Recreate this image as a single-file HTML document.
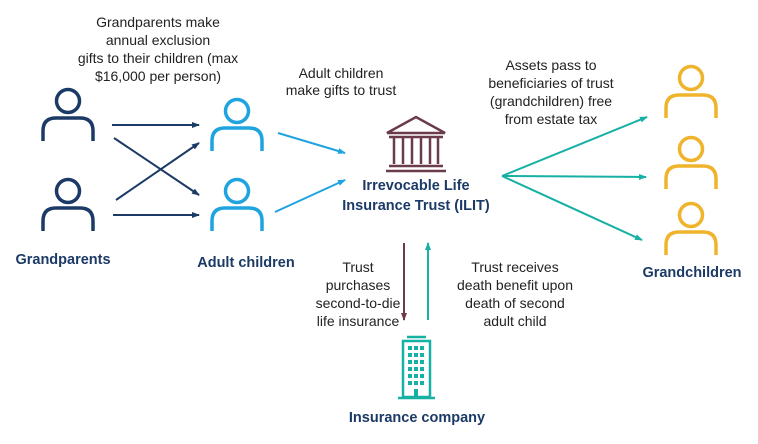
<!DOCTYPE html>
<html><head><style>
body{margin:0;background:#fff;width:758px;height:439px;overflow:hidden}
svg text{font-family:"Liberation Sans",sans-serif}
</style></head><body>
<svg width="758" height="439" viewBox="0 0 758 439" xmlns="http://www.w3.org/2000/svg">
<defs>
<symbol id="p" viewBox="0 0 56 80" overflow="visible">
<circle cx="28" cy="14" r="11.5" fill="none" stroke-width="3.5"/>
<path d="M3 54 V44 Q3 31 16 31 H40 Q53 31 53 44 V54" fill="none" stroke-width="3.5"/>
</symbol>
<marker id="an" markerWidth="8" markerHeight="8" refX="7" refY="4" orient="auto" markerUnits="userSpaceOnUse"><path d="M0 1 L8 4 L0 7z" fill="#1c3a66"/></marker>
<marker id="ab" markerWidth="8" markerHeight="8" refX="7" refY="4" orient="auto" markerUnits="userSpaceOnUse"><path d="M0 1 L8 4 L0 7z" fill="#1fa4e0"/></marker>
<marker id="at" markerWidth="8" markerHeight="8" refX="7" refY="4" orient="auto" markerUnits="userSpaceOnUse"><path d="M0 1 L8 4 L0 7z" fill="#17b0a4"/></marker>
<marker id="am" markerWidth="8" markerHeight="8" refX="7" refY="4" orient="auto" markerUnits="userSpaceOnUse"><path d="M0 1 L8 4 L0 7z" fill="#6b3a4c"/></marker>
</defs>
<g font-size="14" fill="#222" text-anchor="middle">
<text x="158" y="27">Grandparents make</text><text x="158" y="45">annual exclusion</text><text x="158" y="63">gifts to their children (max</text><text x="158" y="81">$16,000 per person)</text>
<text x="341" y="78">Adult children</text><text x="341" y="95">make gifts to trust</text>
<text x="551" y="70">Assets pass to</text><text x="551" y="88">beneficiaries of trust</text><text x="551" y="106">(grandchildren) free</text><text x="551" y="124">from estate tax</text>
<text x="358" y="272">Trust</text><text x="358" y="290">purchases</text><text x="358" y="308">second-to-die</text><text x="358" y="326">life insurance</text>
<text x="515" y="272">Trust receives</text><text x="515" y="290">death benefit upon</text><text x="515" y="308">death of second</text><text x="515" y="326">adult child</text>
</g>
<g font-size="14.5" font-weight="bold" fill="#1c3a66" text-anchor="middle">
<text x="63" y="264">Grandparents</text>
<text x="246" y="267">Adult children</text>
<text x="416" y="190">Irrevocable Life</text>
<text x="416" y="210">Insurance Trust (ILIT)</text>
<text x="417" y="422">Insurance company</text>
<text x="692" y="277">Grandchildren</text>
</g>
<use href="#p" x="40" y="87" width="56" height="80" stroke="#1c3a66"/>
<use href="#p" x="40" y="177" width="56" height="80" stroke="#1c3a66"/>
<use href="#p" x="209" y="97" width="56" height="80" stroke="#1fa4e0"/>
<use href="#p" x="209" y="177" width="56" height="80" stroke="#1fa4e0"/>
<use href="#p" x="663" y="64" width="56" height="80" stroke="#f0b42c"/>
<use href="#p" x="663" y="135" width="56" height="80" stroke="#f0b42c"/>
<use href="#p" x="663" y="201" width="56" height="80" stroke="#f0b42c"/>
<g stroke="#1c3a66" stroke-width="2">
<line x1="112" y1="125" x2="199" y2="125" marker-end="url(#an)"/>
<line x1="113" y1="215" x2="199" y2="215" marker-end="url(#an)"/>
<line x1="114" y1="138" x2="199" y2="195" marker-end="url(#an)"/>
<line x1="116" y1="200" x2="199" y2="143" marker-end="url(#an)"/>
</g>
<g stroke="#1fa4e0" stroke-width="2">
<line x1="278" y1="133" x2="345" y2="153" marker-end="url(#ab)"/>
<line x1="275" y1="212" x2="345" y2="180" marker-end="url(#ab)"/>
</g>
<g stroke="#17b0a4" stroke-width="2">
<line x1="502" y1="176" x2="647" y2="117" marker-end="url(#at)"/>
<line x1="502" y1="176" x2="646" y2="177" marker-end="url(#at)"/>
<line x1="502" y1="176" x2="642" y2="240" marker-end="url(#at)"/>
<line x1="428" y1="320" x2="428" y2="243" marker-end="url(#at)"/>
</g>
<line x1="404" y1="243" x2="404" y2="320" stroke="#6b3a4c" stroke-width="2" marker-end="url(#am)"/>
<g fill="none" stroke="#6b3a4c" stroke-width="2.5">
<path d="M387 133 L416 117 L445 133 Z"/>
<line x1="389" y1="137" x2="443" y2="137"/>
<line x1="394" y1="138" x2="394" y2="164"/><line x1="403" y1="138" x2="403" y2="164"/><line x1="412" y1="138" x2="412" y2="164"/><line x1="421" y1="138" x2="421" y2="164"/><line x1="430" y1="138" x2="430" y2="164"/><line x1="438" y1="138" x2="438" y2="164"/>
<line x1="389" y1="166" x2="443" y2="166"/>
<line x1="386" y1="171" x2="446" y2="171"/>
</g>
<g stroke="#17b0a4" stroke-width="2.5" fill="none">
<rect x="403" y="341" width="27" height="56"/>
<line x1="407" y1="337" x2="426" y2="337"/>
<line x1="398" y1="398" x2="435" y2="398"/>
</g>
<g fill="#17b0a4">
<rect x="408" y="346" width="4" height="4"/><rect x="414" y="346" width="4" height="4"/><rect x="420" y="346" width="4" height="4"/>
<rect x="408" y="353" width="4" height="4"/><rect x="414" y="353" width="4" height="4"/><rect x="420" y="353" width="4" height="4"/>
<rect x="408" y="360" width="4" height="4"/><rect x="414" y="360" width="4" height="4"/><rect x="420" y="360" width="4" height="4"/>
<rect x="408" y="367" width="4" height="4"/><rect x="414" y="367" width="4" height="4"/><rect x="420" y="367" width="4" height="4"/>
<rect x="408" y="374" width="4" height="4"/><rect x="414" y="374" width="4" height="4"/><rect x="420" y="374" width="4" height="4"/>
<rect x="408" y="381" width="4" height="4"/><rect x="414" y="381" width="4" height="4"/><rect x="420" y="381" width="4" height="4"/>
<rect x="414" y="389" width="4" height="8"/>
</g>
</svg>
</body></html>
